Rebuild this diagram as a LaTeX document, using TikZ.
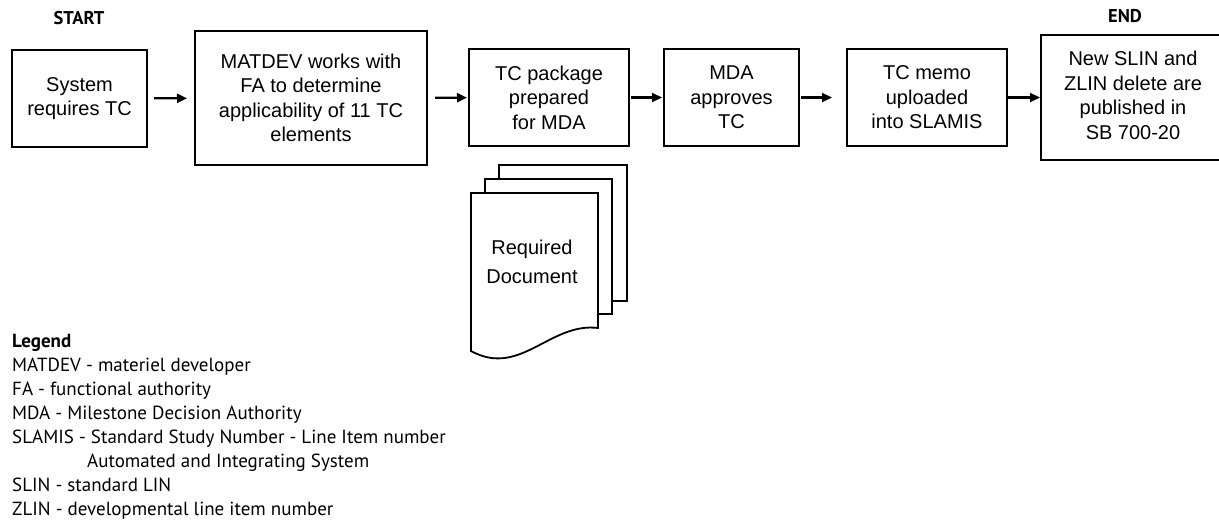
\documentclass[tikz,border=0pt]{standalone}
\usepackage{fontspec}
\setmainfont{Liberation Sans}
\newfontfamily\legfont{PT Sans}
\usetikzlibrary{arrows.meta}
\begin{document}
\begin{tikzpicture}[x=1pt,y=-1pt,
  box/.style={draw=black,line width=2pt,fill=white,align=center,inner sep=0pt,
    font=\fontsize{20}{24.5}\selectfont},
  flow/.style={line width=2.2pt,-{Triangle[length=10pt,width=9pt]}},
  page/.style={draw=black,line width=1.8pt,fill=white},
  hdr/.style={font=\legfont\bfseries\fontsize{18.5}{20}\selectfont}]
\useasboundingbox (0,0) rectangle (1219,520);
\node[hdr] (start) at (79,18) {START};
\node[hdr] (end) at (1125,16) {END};
\node[box,minimum width=135pt,minimum height=97pt] (b1) at (79.5,98.5) {System\\requires TC};
\node[box,minimum width=232pt,minimum height=134pt] (b2) at (311,98) {MATDEV works with\\FA to determine\\applicability of 11 TC\\elements};
\node[box,minimum width=160pt,minimum height=97pt] (b3) at (549,97.5) {TC package\\prepared\\for MDA};
\node[box,minimum width=135pt,minimum height=97pt] (b4) at (731.5,97.5) {MDA\\approves\\TC};
\node[box,minimum width=160pt,minimum height=97pt] (b5) at (927,97.5) {TC memo\\uploaded\\into SLAMIS};
\node[box,draw=none,minimum width=200pt,minimum height=123pt] (b6) at (1142,97.5)
  {\begin{tabular}{@{}c@{}}New SLIN and\\ZLIN delete are\\published in\\SB 700-20\end{tabular}\hspace{18pt}};
\draw[line width=2pt] (b6.north east) -- (b6.north west) -- (b6.south west) -- (b6.south east);
\draw[flow,shorten <=6pt,shorten >=7pt] (b1) -- (b2);
\draw[flow,shorten <=7pt,shorten >=1pt] (b2) -- (b3);
\draw[flow,shorten <=1pt,shorten >=1pt] (b3) -- (b4);
\draw[flow,shorten <=1pt,shorten >=14pt] (b4) -- (b5);
\draw[flow,shorten >=1pt] (b5) -- (b6);
% document stack
\draw[page] (499,165) rectangle (627,301);
\draw[page] (485,179) rectangle (612,314);
\draw[page] (471,193) -- (598,193) -- (598,328) .. controls (550,322) and (520,378) .. (471,351) -- cycle;
\node[font=\fontsize{20}{29}\selectfont,align=center] (doc) at (532,262) {Required\\Document};
% legend
\node[anchor=north west,align=left,inner sep=0pt,font=\legfont\fontsize{19}{24}\selectfont] (legend) at (12,334)
  {\textbf{Legend}\\
   MATDEV - materiel developer\\
   FA - functional authority\\
   MDA - Milestone Decision Authority\\
   SLAMIS - Standard Study Number - Line Item number\\
   \hspace{75pt}Automated and Integrating System\\
   SLIN - standard LIN\\
   ZLIN - developmental line item number};
\end{tikzpicture}
\end{document}
